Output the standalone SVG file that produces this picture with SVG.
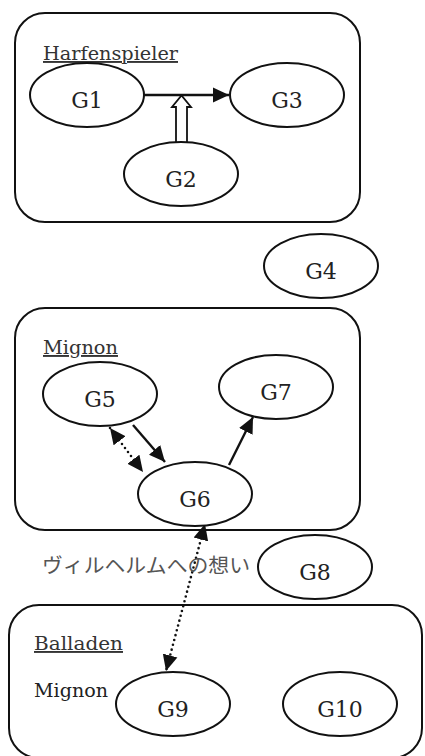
<svg xmlns="http://www.w3.org/2000/svg" width="425" height="756" viewBox="0 0 425 756">
  <style>
    .box { fill: none; stroke: #111; stroke-width: 2; }
    .node ellipse { fill: #fff; stroke: #111; stroke-width: 2; }
    .solid { fill: none; stroke: #111; stroke-width: 2.4; }
    .dotted { fill: none; stroke: #111; stroke-width: 2.6; stroke-dasharray: 0 5; stroke-linecap: round; }
  </style>
  <defs>
    <marker id="head" markerUnits="userSpaceOnUse" markerWidth="18" markerHeight="16" refX="16" refY="8" orient="auto-start-reverse">
      <path d="M0,0.5 L16,8 L0,15.5 Z" fill="#111"/>
    </marker>
  </defs>

  <!-- cluster frames -->
  <g font-family="DejaVu Serif, Liberation Serif, serif" font-size="19">
    <g id="cluster-harfenspieler">
      <rect class="box" x="15" y="13" width="345" height="209" rx="30"/>
      <text x="43" y="60" fill="#333" text-decoration="underline" textLength="135" lengthAdjust="spacingAndGlyphs">Harfenspieler</text>
    </g>
    <g id="cluster-mignon">
      <rect class="box" x="15" y="308" width="345" height="222" rx="30"/>
      <text x="43" y="354" fill="#333" text-decoration="underline" textLength="75" lengthAdjust="spacingAndGlyphs">Mignon</text>
    </g>
    <g id="cluster-balladen">
      <rect class="box" x="9" y="605" width="413" height="153" rx="30"/>
      <text x="34" y="650" fill="#333" text-decoration="underline" textLength="89" lengthAdjust="spacingAndGlyphs">Balladen</text>
      <text x="34" y="697" fill="#222" textLength="74" lengthAdjust="spacingAndGlyphs">Mignon</text>
    </g>
  </g>

  <!-- connectors -->
  <g id="connectors">
    <path class="solid" d="M143,95 L229,95" marker-end="url(#head)"/>
    <!-- hollow double-line arrow from G2 up to the G1-G3 edge -->
    <path d="M176,142 L176,107 L172,107 L181.5,95.5 L191,107 L187,107 L187,142" fill="#fff" stroke="#111" stroke-width="1.8" stroke-linejoin="miter"/>
    <path class="dotted" d="M110,428 L143,472" marker-start="url(#head)" marker-end="url(#head)"/>
    <path class="solid" d="M133,425 L165,462" marker-end="url(#head)"/>
    <path class="solid" d="M229,465 L253,417" marker-end="url(#head)"/>
    <path class="dotted" d="M205,524 L166,671" marker-start="url(#head)" marker-end="url(#head)"/>
  </g>

  <text x="42" y="573" font-family="Noto Sans CJK JP, Noto Sans, sans-serif" font-size="20" fill="#555" textLength="208" lengthAdjust="spacingAndGlyphs">ヴィルヘルムへの想い</text>

  <!-- nodes -->
  <g font-family="DejaVu Serif, Liberation Serif, serif" font-size="22" fill="#222" text-anchor="middle">
    <g id="G1" class="node"><ellipse cx="87" cy="95" rx="57" ry="32"/><text x="87" y="108">G1</text></g>
    <g id="G2" class="node"><ellipse cx="181" cy="174" rx="57" ry="32"/><text x="181" y="187">G2</text></g>
    <g id="G3" class="node"><ellipse cx="287" cy="95" rx="57" ry="32"/><text x="287" y="108">G3</text></g>
    <g id="G4" class="node"><ellipse cx="321" cy="266" rx="57" ry="32"/><text x="321" y="279">G4</text></g>
    <g id="G5" class="node"><ellipse cx="100" cy="394" rx="57" ry="32"/><text x="100" y="407">G5</text></g>
    <g id="G6" class="node"><ellipse cx="195" cy="494" rx="57" ry="32"/><text x="195" y="507">G6</text></g>
    <g id="G7" class="node"><ellipse cx="276" cy="387" rx="57" ry="32"/><text x="276" y="400">G7</text></g>
    <g id="G8" class="node"><ellipse cx="315" cy="567" rx="57" ry="32"/><text x="315" y="580">G8</text></g>
    <g id="G9" class="node"><ellipse cx="173" cy="704" rx="57" ry="32"/><text x="173" y="717">G9</text></g>
    <g id="G10" class="node"><ellipse cx="340" cy="704" rx="57" ry="32"/><text x="340" y="717">G10</text></g>
  </g>
</svg>
